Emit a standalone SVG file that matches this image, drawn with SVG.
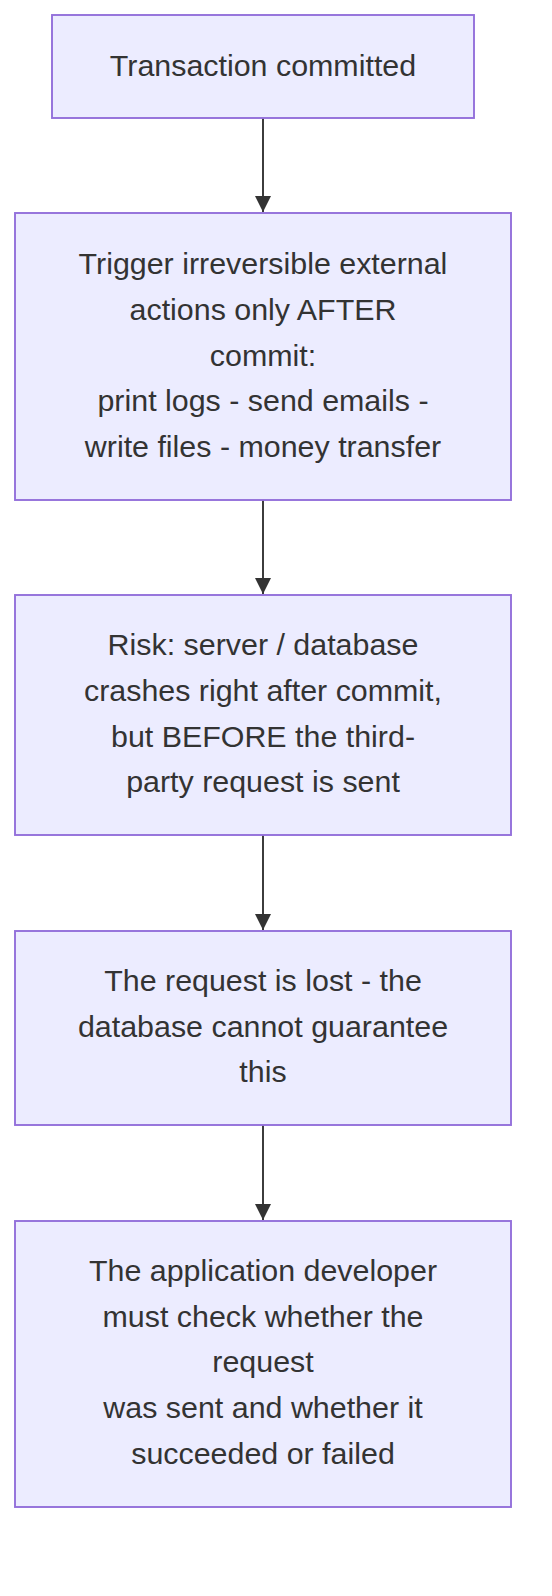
<svg xmlns="http://www.w3.org/2000/svg" width="552" height="1596" viewBox="0 0 552 1596">
<style>
.box{fill:#ECECFF;stroke:#9370DB;stroke-width:1.9}
.lbl{font-family:"Liberation Sans",Arial,sans-serif;font-size:30.4px;fill:#333;text-anchor:middle;dominant-baseline:central}
.edge{stroke:#333;stroke-width:1.9;fill:none}
</style>
<defs>
<marker id="arr" markerUnits="userSpaceOnUse" markerWidth="18" markerHeight="18" refX="16" refY="8" orient="auto">
<path d="M0,0 L16,8 L0,16 z" fill="#333"/>
</marker>
</defs>
<rect width="552" height="1596" fill="#fff"/>
<g id="edges">
<line class="edge" x1="263" y1="118" x2="263" y2="212" marker-end="url(#arr)"/>
<line class="edge" x1="263" y1="500" x2="263" y2="594" marker-end="url(#arr)"/>
<line class="edge" x1="263" y1="835" x2="263" y2="930" marker-end="url(#arr)"/>
<line class="edge" x1="263" y1="1125" x2="263" y2="1220" marker-end="url(#arr)"/>
</g>
<g id="n1">
<rect class="box" x="52" y="15" width="422" height="103"/>
<text class="lbl" x="263" y="65">Transaction committed</text>
</g>
<g id="n2">
<rect class="box" x="15" y="213" width="496" height="287"/>
<text class="lbl" x="263" y="263">Trigger irreversible external</text>
<text class="lbl" x="263" y="309">actions only AFTER</text>
<text class="lbl" x="263" y="355">commit:</text>
<text class="lbl" x="263" y="400">print logs - send emails -</text>
<text class="lbl" x="263" y="446">write files - money transfer</text>
</g>
<g id="n3">
<rect class="box" x="15" y="595" width="496" height="240"/>
<text class="lbl" x="263" y="644">Risk: server / database</text>
<text class="lbl" x="263" y="690">crashes right after commit,</text>
<text class="lbl" x="263" y="736">but BEFORE the third-</text>
<text class="lbl" x="263" y="781">party request is sent</text>
</g>
<g id="n4">
<rect class="box" x="15" y="931" width="496" height="194"/>
<text class="lbl" x="263" y="980">The request is lost - the</text>
<text class="lbl" x="263" y="1026">database cannot guarantee</text>
<text class="lbl" x="263" y="1071">this</text>
</g>
<g id="n5">
<rect class="box" x="15" y="1221" width="496" height="286"/>
<text class="lbl" x="263" y="1270">The application developer</text>
<text class="lbl" x="263" y="1316">must check whether the</text>
<text class="lbl" x="263" y="1361">request</text>
<text class="lbl" x="263" y="1407">was sent and whether it</text>
<text class="lbl" x="263" y="1453">succeeded or failed</text>
</g>
</svg>
